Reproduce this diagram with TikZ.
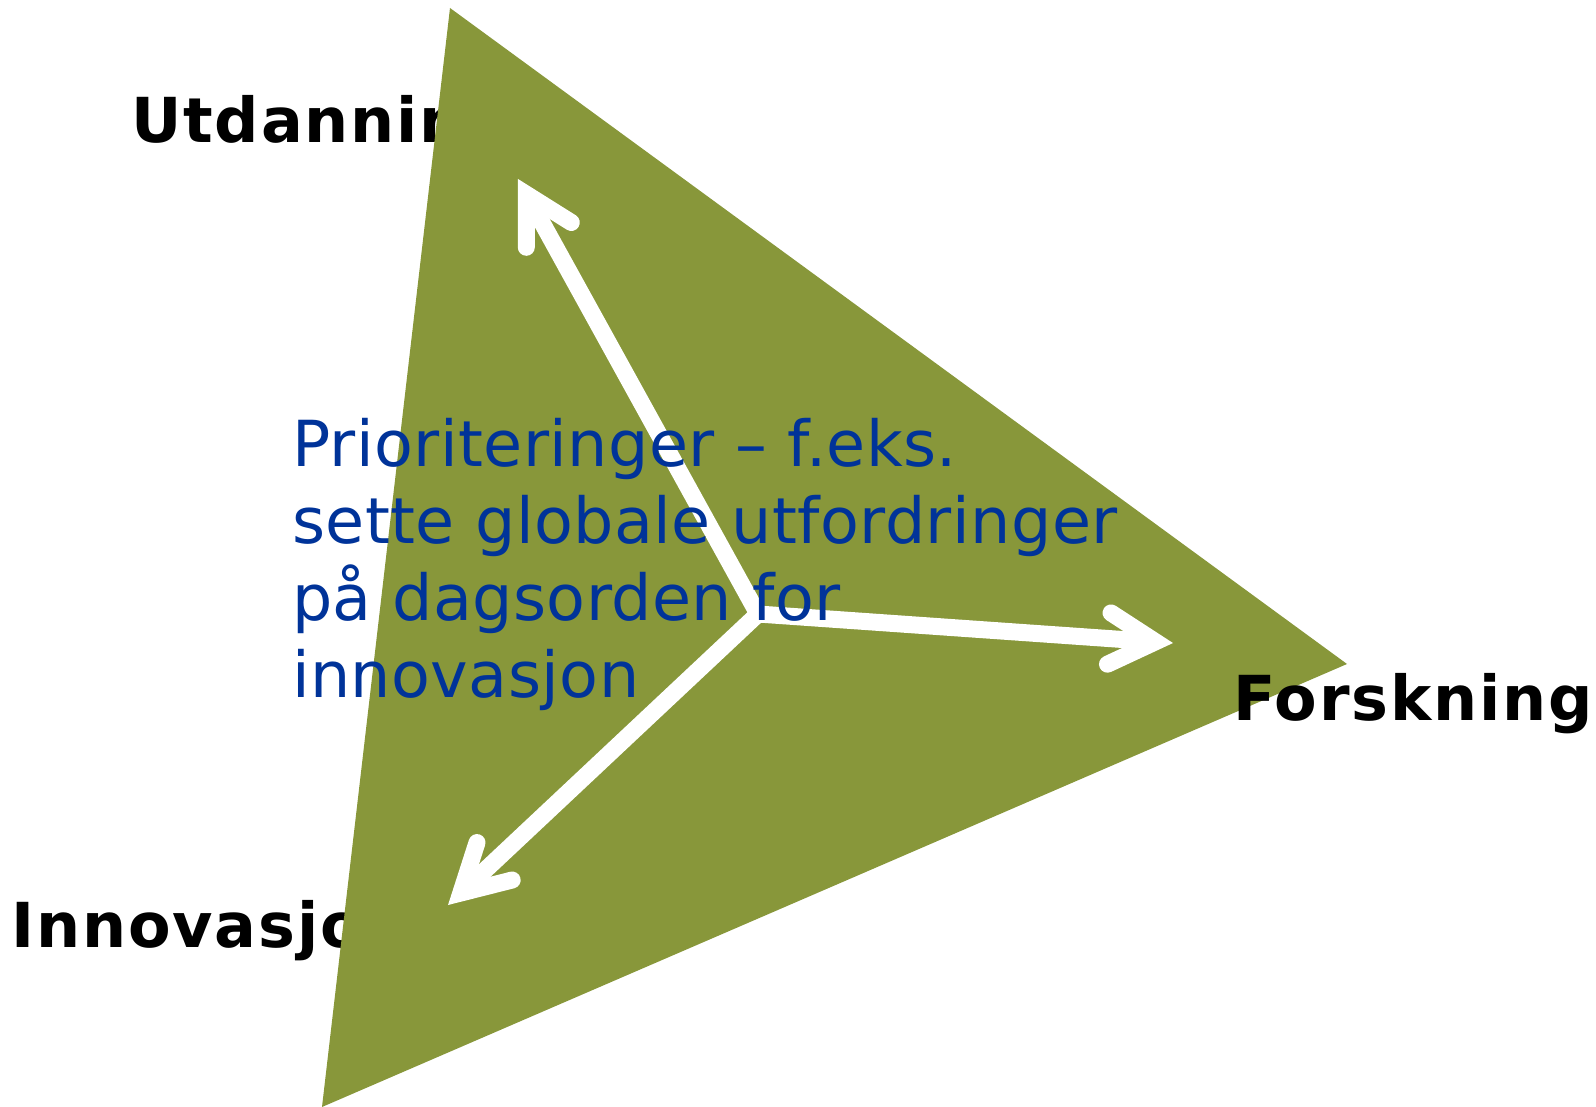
\documentclass[tikz,border=0pt]{standalone}
\usepackage{fontspec}
\setmainfont{DejaVu Sans}
\usetikzlibrary{calc}
\definecolor{trigreen}{RGB}{136,151,58}
\definecolor{prioblue}{RGB}{0,51,153}
\begin{document}
\begin{tikzpicture}[x=1pt,y=-1pt,
    corner/.style={font=\fontsize{62}{74}\selectfont\bfseries\addfontfeatures{LetterSpace=3},anchor=base west,inner sep=0pt},
    prio/.style={font=\fontsize{63.5}{77}\selectfont\addfontfeatures{LetterSpace=0.7},text=prioblue,align=left,anchor=base west,inner sep=0pt},
    shaft/.style={draw=white,line width=17pt},
    barb/.style={draw=white,line width=17pt,line cap=round,line join=miter}]
  \useasboundingbox (0,0) rectangle (1596,1107);
  % labels behind the triangle
  \node[corner] (utd) at (131,143) {Utdanning};
  \node[corner] (inn) at (11,947) {Innovasjon};
  \fill[trigreen] (450,8) coordinate (top) -- (1347,664) coordinate (right)
    -- (322,1107) coordinate (bottom) -- cycle;
  \node[corner] (fors) at (1233,720) {Forskning};
  % arrows from the middle
  \coordinate (c) at (758,614);
  \coordinate (u) at (526.4,194.3);
  \coordinate (f) at (1155.5,641.8);
  \coordinate (i) at (460.8,893);
  \foreach \t in {u,f,i} {
    \draw[shaft] (c) -- (\t);
    \draw[barb] ($(\t)!53pt!29:(c)$) -- (\t) -- ($(\t)!53pt!-29:(c)$);
  }
  \node[prio] (prio) at (292,697) {Prioriteringer – f.eks.\\sette globale utfordringer\\på dagsorden for\\innovasjon};
\end{tikzpicture}
\end{document}
